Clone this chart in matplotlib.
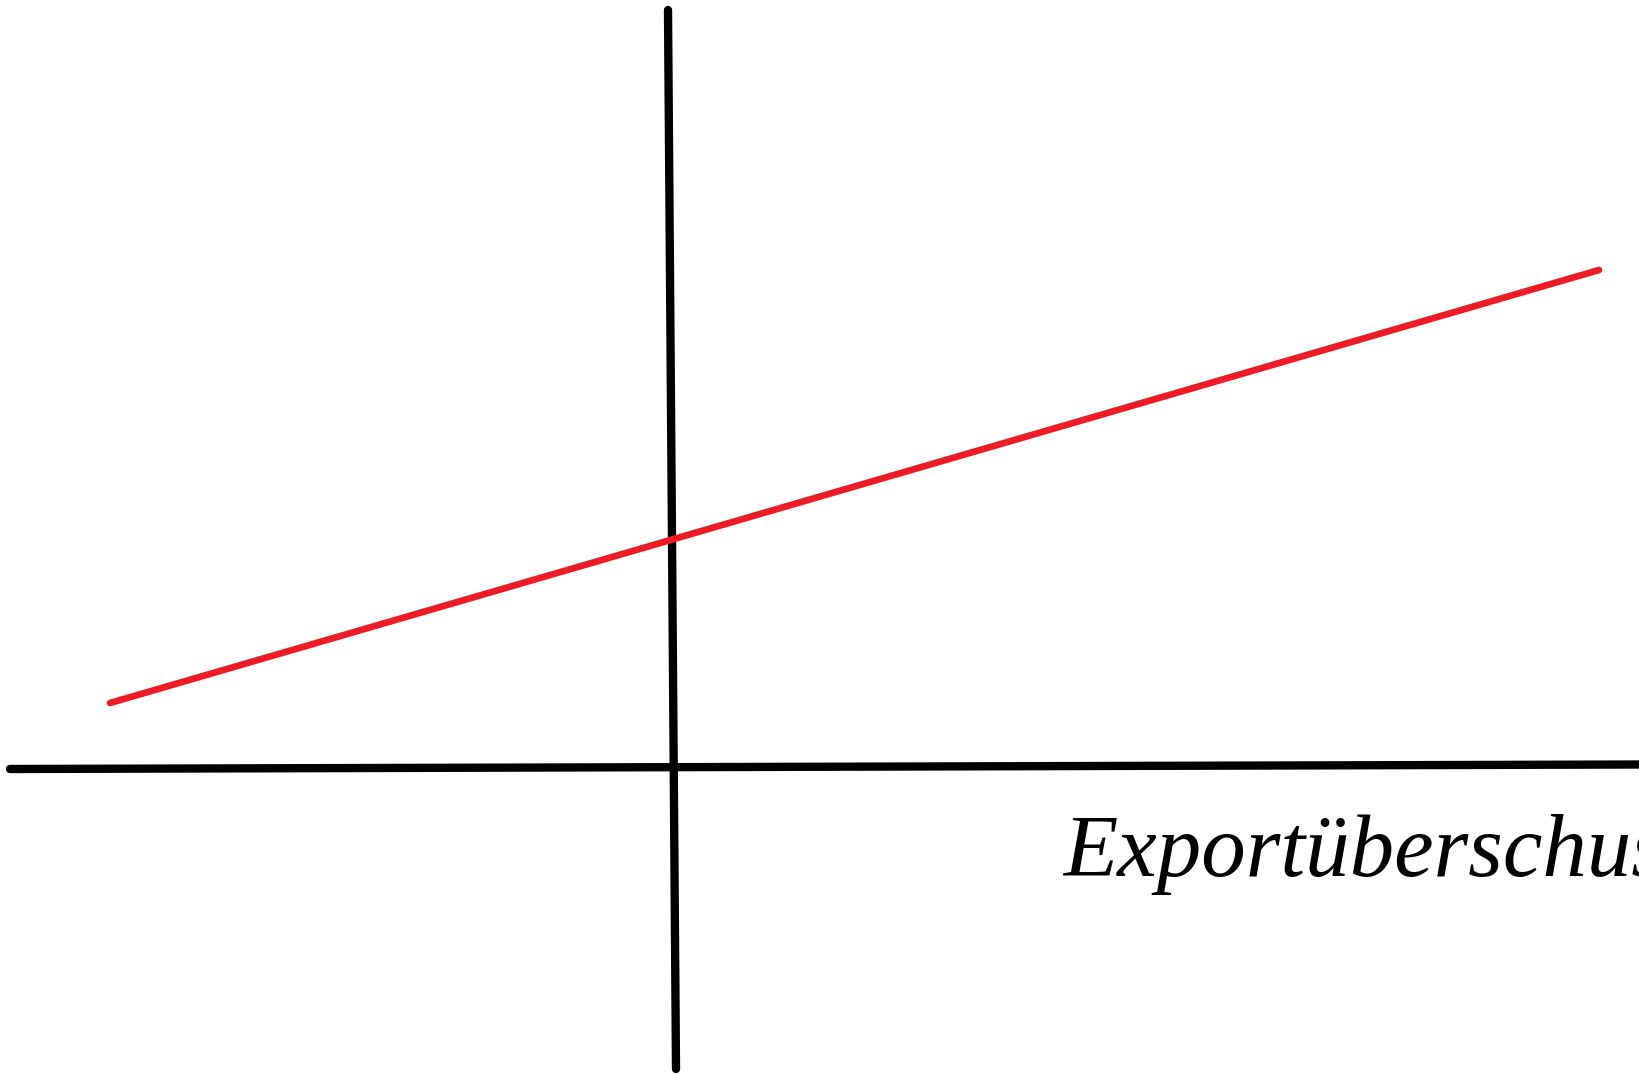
import matplotlib
matplotlib.use("Agg")
import matplotlib.pyplot as plt

# Data (units: hundreds of pixels relative to the axis crossing)
vaxis_x = [-0.02, 0.06]
vaxis_y = [7.57, -3.02]
haxis_x = [-6.60, 9.70]
haxis_y = [-0.02, 0.025]
red_x = [-5.60, 9.29]
red_y = [0.64, 4.97]
label_text = "Exportüberschus"
label_pos = (3.93, -1.09)

fig = plt.figure(figsize=(16.4, 10.76), dpi=100)
ax = fig.add_axes([0, 0, 1, 1])
ax.set_xlim(-6.70, 9.70)
ax.set_ylim(-3.09, 7.67)
ax.axis("off")

ax.plot(vaxis_x, vaxis_y, color="black", lw=6.0, solid_capstyle="round")
ax.plot(haxis_x, haxis_y, color="black", lw=6.0, solid_capstyle="round")
ax.plot(red_x, red_y, color="#ED1C24", lw=4.8, solid_capstyle="round")

ax.text(label_pos[0], label_pos[1], label_text, family="Liberation Serif",
        style="italic", fontsize=64, ha="left", va="baseline", color="black",
        clip_on=False)

fig.savefig("out.png", dpi=100, facecolor="white")
